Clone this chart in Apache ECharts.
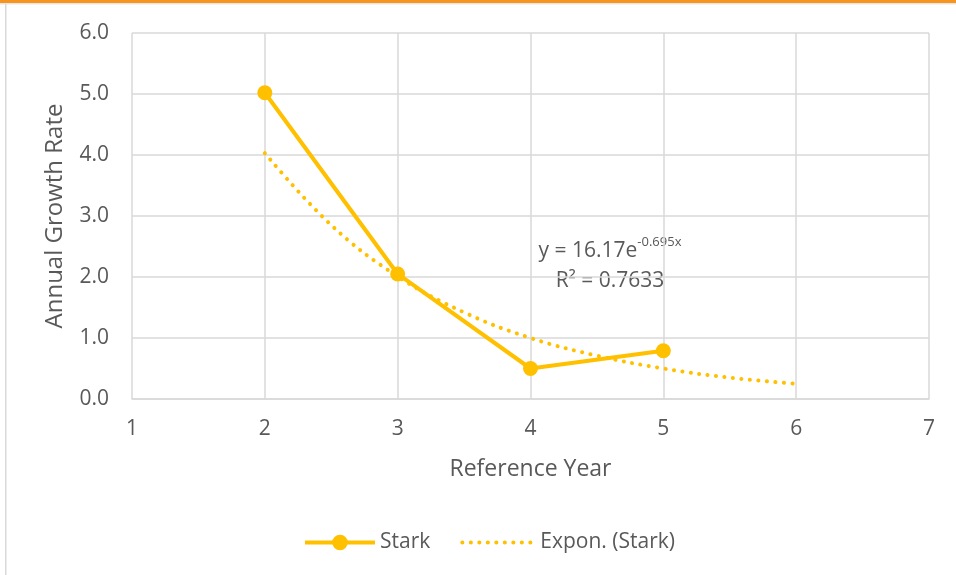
<!DOCTYPE html>
<html><head><meta charset="utf-8">
<script src="https://cdn.jsdelivr.net/npm/echarts@6/dist/echarts.min.js"></script>
<style>html,body{margin:0;padding:0;background:#fff;}#c{width:956px;height:575px;}</style>
</head><body><div id="c"></div>
<script>
// Data
const starkYears = [2, 3, 4, 5];
const starkValues = [5.02, 2.05, 0.50, 0.79];
const trendYears = [2, 2.5, 3, 3.5, 4, 4.5, 5, 5.5, 6];
const trendValues = [4.03, 2.85, 2.01, 1.42, 1.00, 0.71, 0.50, 0.35, 0.25];
const yTicks = [0, 1, 2, 3, 4, 5, 6];
const xTicks = [1, 2, 3, 4, 5, 6, 7];
const seriesNames = ['Stark', 'Expon. (Stark)'];
const eqText = ['y = 16.17e', '-0.695x', 'R² = 0.7633'];

const FONT = '"Open Sans", "Noto Sans", sans-serif';
const GOLD = '#FFC000';
const TXT = '#595959';

const chart = echarts.init(document.getElementById('c'));
chart.setOption({
  animation: false,
  backgroundColor: '#fff',
  textStyle: {fontFamily: FONT},
  grid: {left: 132, right: 27, top: 33, bottom: 176},
  xAxis: {
    type: 'value', min: xTicks[0], max: xTicks[xTicks.length-1], interval: 1,
    name: 'Reference Year', nameLocation: 'middle', nameGap: 59,
    nameTextStyle: {color: TXT, fontSize: 23, fontFamily: FONT},
    axisLine: {show: true, lineStyle: {color: '#d9d9d9', width: 1.5}},
    axisTick: {show: false},
    axisLabel: {color: TXT, fontSize: 21, margin: 20, fontFamily: FONT},
    splitLine: {show: true, lineStyle: {color: '#d9d9d9', width: 1.5}}
  },
  yAxis: {
    type: 'value', min: yTicks[0], max: yTicks[yTicks.length-1], interval: 1,
    name: 'Annual Growth Rate', nameLocation: 'middle', nameGap: 65,
    nameTextStyle: {color: TXT, fontSize: 24, fontFamily: FONT},
    axisLine: {show: false},
    axisTick: {show: false},
    axisLabel: {color: TXT, fontSize: 21, margin: 23, fontFamily: FONT,
      formatter: v => v.toFixed(1)},
    splitLine: {show: true, lineStyle: {color: '#d9d9d9', width: 1.5}}
  },
  legend: {
    bottom: 17, left: 298, itemGap: 30, itemWidth: 70, itemHeight: 19.5,
    textStyle: {color: TXT, fontSize: 21, fontFamily: FONT},
    data: [
      {name: seriesNames[0], lineStyle: {width: 4}},
      {name: seriesNames[1], lineStyle: {width: 4, type: [0.1, 8.4], cap: 'round'},
       textStyle: {padding: [0, 0, 0, 3]},
       itemStyle: {color: 'rgba(0,0,0,0)', borderColor: 'rgba(0,0,0,0)', borderWidth: 0, opacity: 0}}
    ]
  },
  graphic: [
    {type: 'rect', shape: {x: 0, y: 0, width: 956, height: 3}, style: {fill: '#F7941D'}},
    {type: 'rect', shape: {x: 0, y: 3, width: 956, height: 1.5}, style: {fill: '#e6e6e6'}},
    {type: 'rect', shape: {x: 5, y: 4, width: 1.5, height: 571}, style: {fill: '#d9d9d9'}},
    {type: 'text', x: 610, y: 236, style: {
      align: 'center', verticalAlign: 'top',
      text: '{a|' + eqText[0] + '}{b|' + eqText[1] + '}\n{a|' + eqText[2] + '}',
      rich: {
        a: {fontSize: 21, fill: TXT, fontFamily: FONT, lineHeight: 30},
        b: {fontSize: 13, fill: TXT, fontFamily: FONT, verticalAlign: 'top', padding: [0,0,12,0]}
      }
    }}
  ],
  series: [
    {
      name: seriesNames[1], type: 'line', smooth: 0.4, showSymbol: false, symbol: 'none',
      data: trendYears.map((x, i) => [x, trendValues[i]]),
      lineStyle: {color: GOLD, width: 4, type: [0.1, 8.4], cap: 'round'},
      itemStyle: {color: GOLD}, z: 2
    },
    {
      name: seriesNames[0], type: 'line', symbol: 'circle', symbolSize: 15,
      data: starkYears.map((x, i) => [x, starkValues[i]]),
      lineStyle: {color: GOLD, width: 4}, itemStyle: {color: GOLD}, z: 3
    }
  ]
});
</script></body></html>
